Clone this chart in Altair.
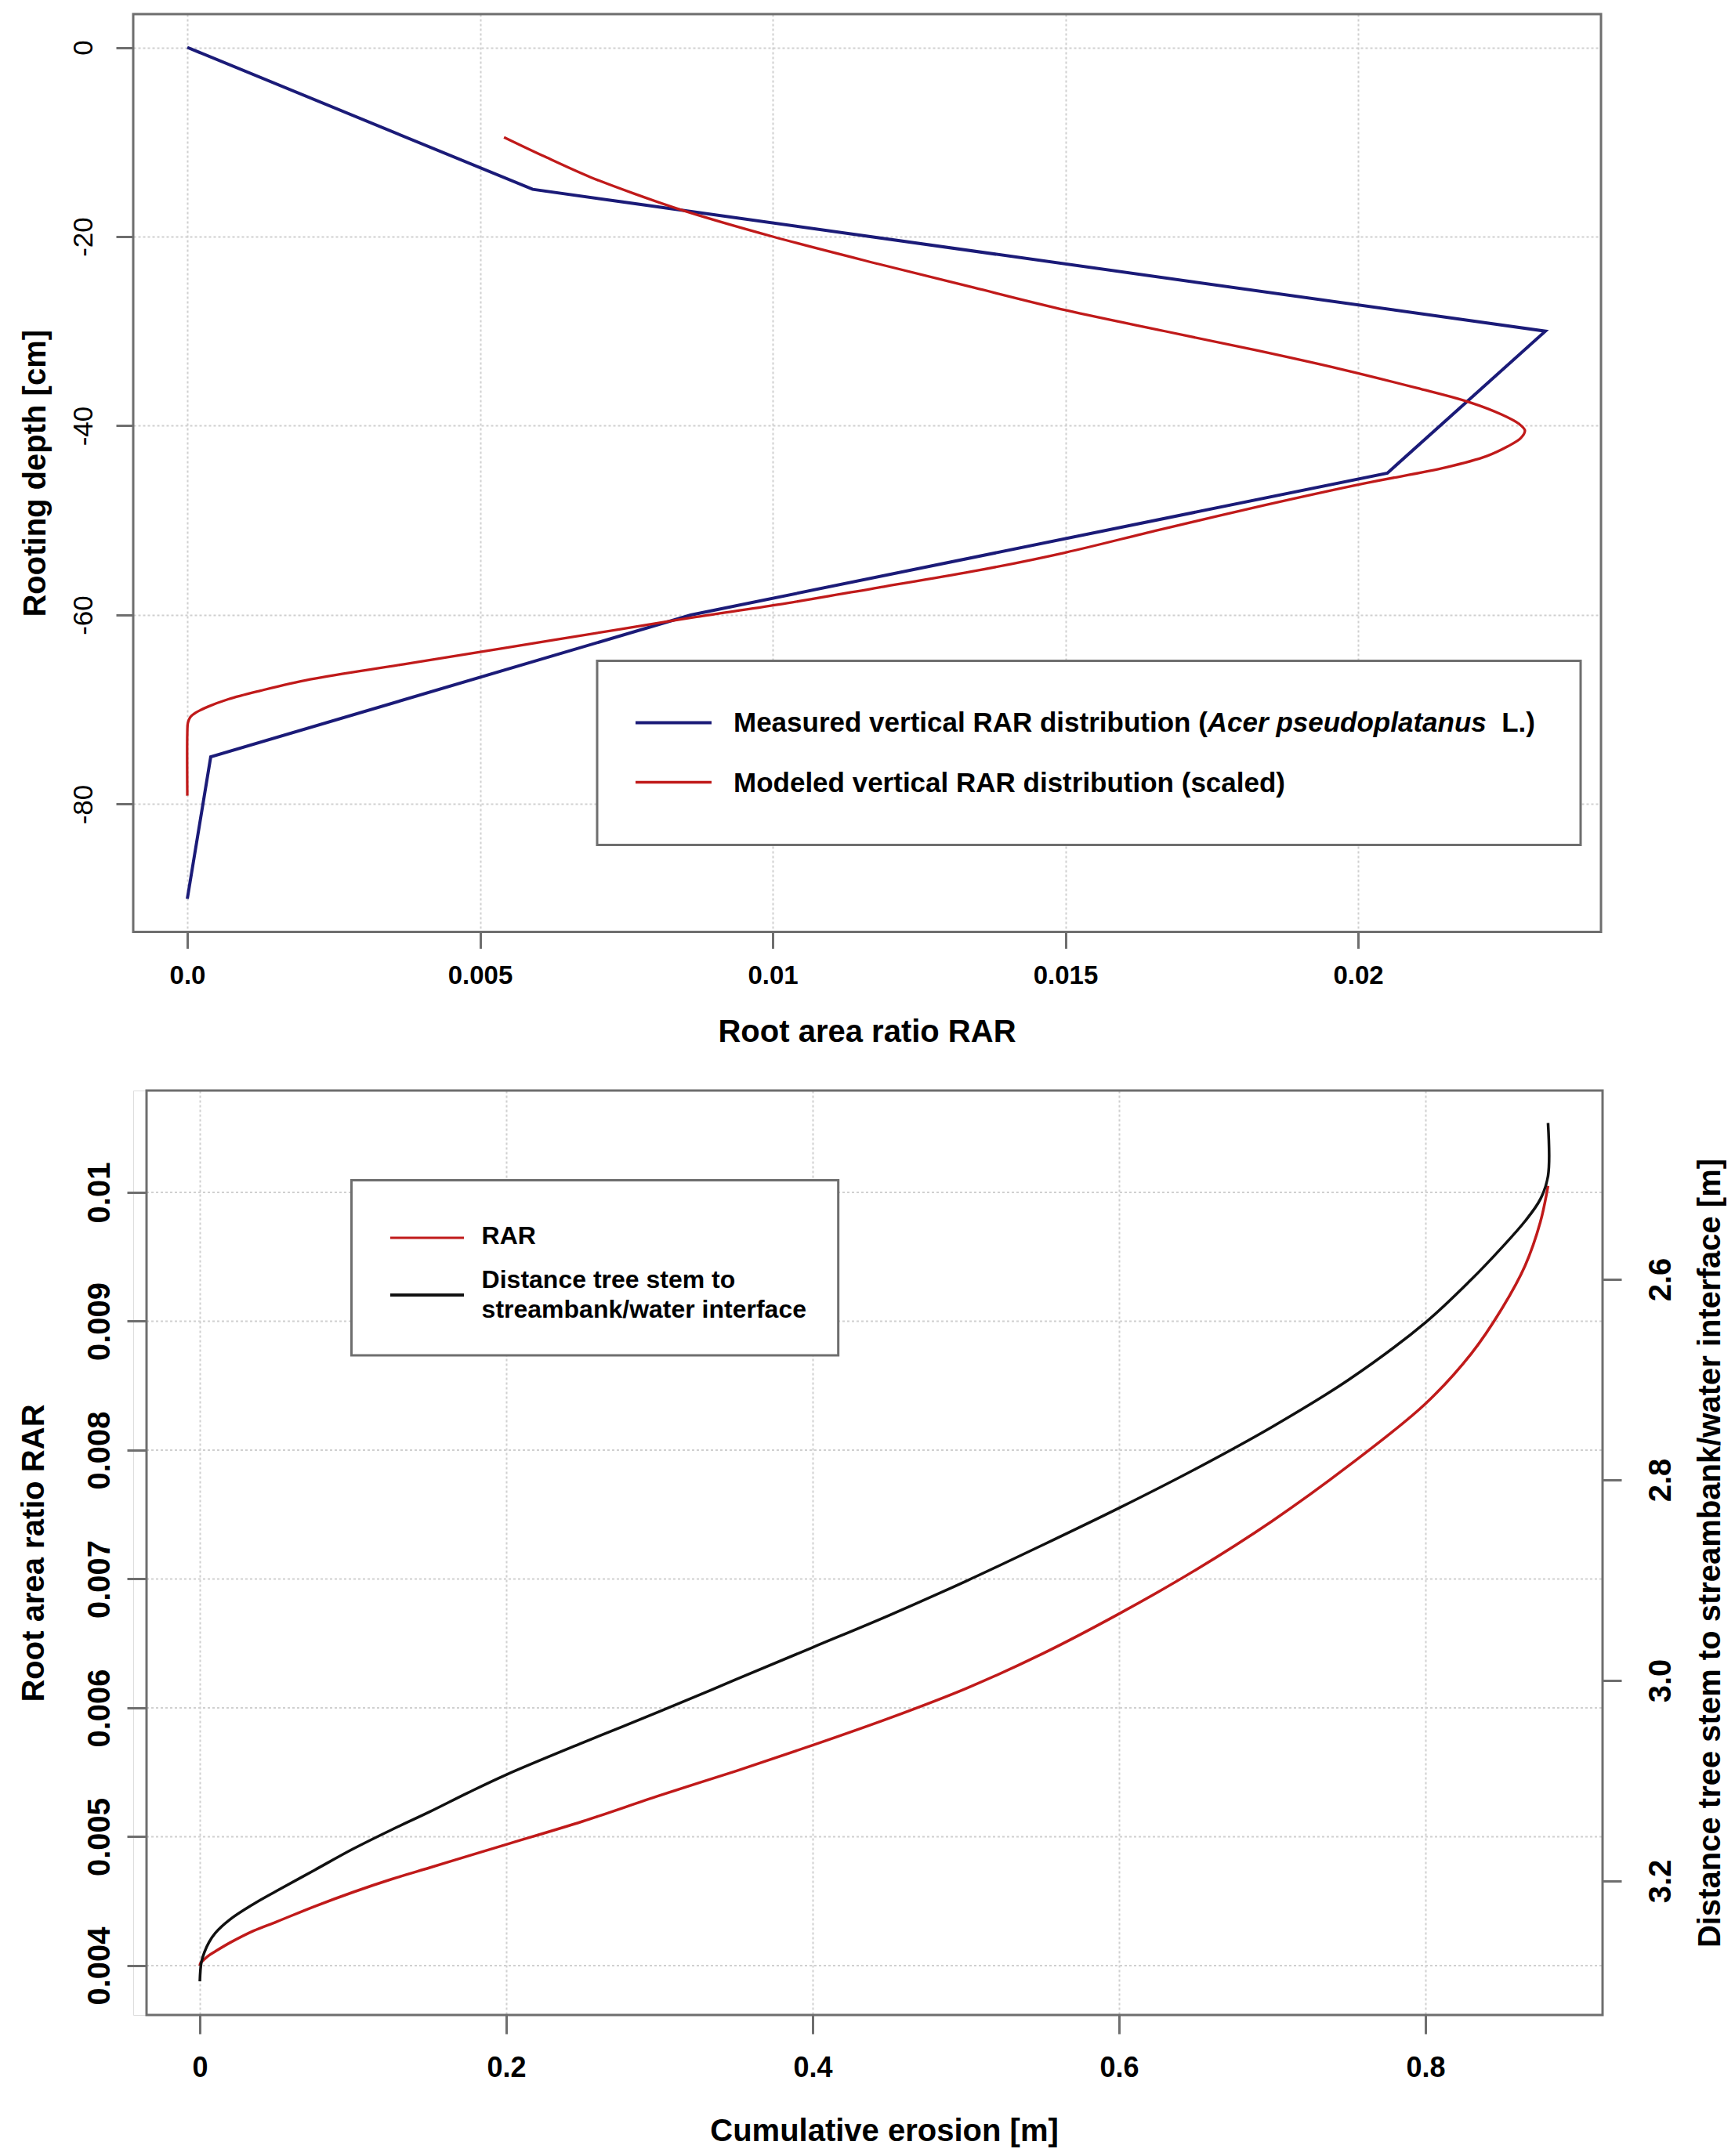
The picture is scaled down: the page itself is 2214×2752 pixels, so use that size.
import altair as alt
import pandas as pd

FONT = "Liberation Sans, Arial, sans-serif"
FRAME = "#6e6e6e"
GRID = "#d0d0d0"
BLUE = "#1b1b78"
RED = "#c01a1a"
BLACK = "#111111"

# ---------------- data: upper panel ----------------
meas_rar = [0.0, 0.0059, 0.0232, 0.0205, 0.0086, 0.0004, 0.0]
meas_depth = [0, -15, -30, -45, -60, -75, -90]

mod_rar = [0.00541, 0.00609, 0.00688, 0.00765, 0.00850, 0.0100, 0.01181, 0.01344,
           0.01502, 0.0167, 0.01825, 0.0197, 0.0210, 0.0219, 0.02245, 0.02275,
           0.02285, 0.02278, 0.02255, 0.0222, 0.0215, 0.0201, 0.0184, 0.0166,
           0.0150, 0.0135, 0.0119, 0.0101, 0.0087, 0.0074, 0.0054, 0.0037,
           0.0021, 0.00125, 0.0007, 0.00035, 0.00015, 0.00005, 0.00001, 0.0, 0.0]
mod_depth = [-9.5, -11.5, -13.7, -15.5, -17.3, -20.0, -22.9, -25.4,
             -27.8, -30.0, -32.0, -34.0, -36.0, -37.5, -38.8, -39.8,
             -40.5, -41.3, -42.2, -43.2, -44.4, -46.1, -48.4, -51.0,
             -53.4, -55.3, -57.0, -58.9, -60.2, -61.5, -63.5, -65.2,
             -66.8, -68.0, -68.9, -69.7, -70.3, -70.8, -71.4, -72.5, -79.1]

top_xticks = [0.0, 0.005, 0.01, 0.015, 0.02]
top_xlabels = ["0.0", "0.005", "0.01", "0.015", "0.02"]
top_yticks = [0, -20, -40, -60, -80]
top_ylabels = ["0", "-20", "-40", "-60", "-80"]

# ---------------- data: lower panel ----------------
ero = [0.0, 0.0005, 0.003, 0.006, 0.01, 0.02, 0.035, 0.05, 0.075, 0.1, 0.125, 0.15,
       0.175, 0.2, 0.25, 0.3, 0.35, 0.4, 0.45, 0.5, 0.55, 0.6, 0.65, 0.7, 0.75, 0.8,
       0.83, 0.85, 0.865, 0.875, 0.88]
rar = [0.00400, 0.00402, 0.00405, 0.00408, 0.00411, 0.00418, 0.00427, 0.00434,
       0.00446, 0.00457, 0.00467, 0.00476, 0.00485, 0.00494, 0.00512, 0.00532,
       0.00551, 0.00571, 0.00592, 0.00615, 0.00642, 0.00673, 0.00707, 0.00745,
       0.00788, 0.00836, 0.00875, 0.00910, 0.00943, 0.00977, 0.01005]

dist_ero = [0.0, 0.001, 0.003, 0.006, 0.01, 0.02, 0.035, 0.05, 0.075, 0.1, 0.125, 0.15,
            0.175, 0.2, 0.25, 0.3, 0.35, 0.4, 0.45, 0.5, 0.55, 0.6, 0.65, 0.7, 0.75, 0.8,
            0.83, 0.85, 0.865, 0.875, 0.88, 0.88]
dist = [3.300, 3.281, 3.271, 3.261, 3.252, 3.238, 3.223, 3.210, 3.189, 3.168, 3.149,
        3.131, 3.112, 3.094, 3.062, 3.031, 2.999, 2.967, 2.935, 2.901, 2.865, 2.828,
        2.789, 2.747, 2.700, 2.643, 2.600, 2.568, 2.542, 2.520, 2.497, 2.444]

bot_xticks = [0.0, 0.2, 0.4, 0.6, 0.8]
bot_xlabels = ["0", "0.2", "0.4", "0.6", "0.8"]
bot_lticks = [0.004, 0.005, 0.006, 0.007, 0.008, 0.009, 0.01]
bot_llabels = ["0.004", "0.005", "0.006", "0.007", "0.008", "0.009", "0.01"]
bot_rticks = [2.6, 2.8, 3.0, 3.2]
bot_rlabels = ["2.6", "2.8", "3.0", "3.2"]

# ---------------- helpers ----------------
def lab_expr(ticks, labels):
    expr = "''"
    for t, l in reversed(list(zip(ticks, labels))):
        expr = f"abs(datum.value - ({t})) < 1e-7 ? '{l}' : ({expr})"
    return expr

# Arial / Liberation Sans Bold advance widths (per 1000 em) for legend layout
W = {' ': 278, '(': 333, ')': 333, '.': 278, 'A': 722, 'L': 611, 'M': 833, 'R': 722,
     'a': 556, 'b': 611, 'c': 556, 'd': 611, 'e': 556, 'i': 278, 'l': 278, 'n': 611,
     'o': 611, 'p': 611, 'r': 389, 's': 556, 't': 333, 'u': 611, 'v': 556}

def text_w(s, size):
    return sum(W.get(ch, 556) for ch in s) * size / 1000.0

one = pd.DataFrame({"k": [0]})

def rect(x1, x2, y1, y2, fill="white", fo=1.0):
    return alt.Chart(one).mark_rect(fill=fill, fillOpacity=fo, stroke=FRAME, strokeWidth=3).encode(
        x=alt.value(x1), x2=alt.value(x2), y=alt.value(y1), y2=alt.value(y2))

def seg(x1, x2, y, color, w=4):
    return alt.Chart(one).mark_rule(color=color, strokeWidth=w).encode(
        x=alt.value(x1), x2=alt.value(x2), y=alt.value(y))

def txt(x, y, s, size, style="normal"):
    return alt.Chart(one).mark_text(align="left", baseline="alphabetic", font=FONT,
                                    fontSize=size, fontWeight="bold", fontStyle=style,
                                    color="black").encode(
        x=alt.value(x), y=alt.value(y), text=alt.value(s))

# ---------------- upper panel ----------------
TW, TH = 1873, 1171.5
top_x_scale = alt.Scale(domain=[-0.000924, 0.024150], nice=False, zero=False)
top_y_scale = alt.Scale(domain=[-93.5, 3.52], nice=False, zero=False)

meas_df = pd.DataFrame({"rar": meas_rar, "depth": meas_depth, "idx": range(len(meas_rar))})
mod_df = pd.DataFrame({"rar": mod_rar, "depth": mod_depth, "idx": range(len(mod_rar))})

top_x_axis = alt.Axis(values=top_xticks, labelExpr=lab_expr(top_xticks, top_xlabels),
                      title="Root area ratio RAR", titleFontSize=40, titleFontWeight="bold",
                      titleBaseline="alphabetic", titleX=936, titleY=140,
                      labelFontSize=33, labelFontWeight="bold", labelBaseline="alphabetic",
                      labelPadding=45, tickSize=21, tickWidth=3, tickColor=FRAME,
                      domain=False, grid=True, gridColor=GRID, gridDash=[3, 3], gridWidth=2,
                      labelOverlap=False, labelFlush=False)
top_y_axis = alt.Axis(values=top_yticks, labelExpr=lab_expr(top_yticks, top_ylabels),
                      title="Rooting depth [cm]", titleFontSize=40, titleFontWeight="bold",
                      titleAngle=270, titleBaseline="alphabetic", titleAlign="center",
                      titleX=-113, titleY=TH / 2,
                      labelFontSize=35, labelFontWeight="normal", labelAngle=270,
                      labelAlign="center", labelBaseline="alphabetic", labelPadding=30.5,
                      tickSize=22, tickWidth=3, tickColor=FRAME,
                      domain=False, grid=True, gridColor=GRID, gridDash=[3, 3], gridWidth=2,
                      labelOverlap=False, labelFlush=False)

meas_line = alt.Chart(meas_df).mark_line(color=BLUE, strokeWidth=4).encode(
    x=alt.X("rar:Q", scale=top_x_scale, axis=top_x_axis),
    y=alt.Y("depth:Q", scale=top_y_scale, axis=top_y_axis),
    order="idx:Q",
)
mod_line = alt.Chart(mod_df).mark_line(color=RED, strokeWidth=3.3, interpolate="catmull-rom").encode(
    x=alt.X("rar:Q", scale=top_x_scale, axis=top_x_axis),
    y=alt.Y("depth:Q", scale=top_y_scale, axis=top_y_axis),
    order="idx:Q",
)

LS = 35
lx = 766
pre = "Measured vertical RAR distribution ("
ital = "Acer pseudoplatanus"
x_ital = lx + text_w(pre, LS)
x_suf = x_ital + text_w(ital, LS) + 2 * text_w(" ", LS)

top_legend = [
    rect(592, 1847, 825.5, 1060.5),
    seg(641, 738, 904.5, BLUE, 4),
    seg(641, 738, 980.5, RED, 3.5),
    txt(lx, 915.5, pre, LS),
    txt(x_ital, 915.5, ital, LS, "italic"),
    txt(x_suf, 915.5, "L.)", LS),
    txt(lx, 992.5, "Modeled vertical RAR distribution (scaled)", LS),
]

top = alt.layer(meas_line, mod_line, *top_legend, rect(0, TW, 0, TH, fill="white", fo=0.0)).properties(
    width=TW, height=TH)

# ---------------- lower panel ----------------
BW, BH = 1875, 1180
XOFF = 17  # frame / left axis start inside the view
bot_x_scale = alt.Scale(domain=[-0.04348, 0.9156], nice=False, zero=False)
left_scale = alt.Scale(domain=[0.003617, 0.01079], nice=False, zero=False)
right_scale = alt.Scale(domain=[2.4117, 3.3336], reverse=True, nice=False, zero=False)

bot_x_axis = alt.Axis(values=bot_xticks, labelExpr=lab_expr(bot_xticks, bot_xlabels),
                      title="Cumulative erosion [m]", titleFontSize=40, titleFontWeight="bold",
                      titleBaseline="alphabetic", titleX=958, titleY=160,
                      labelFontSize=36, labelFontWeight="bold", labelBaseline="alphabetic",
                      labelPadding=54, tickSize=24, tickWidth=3, tickColor=FRAME,
                      domain=False, grid=True, gridColor=GRID, gridDash=[3, 3], gridWidth=2,
                      labelOverlap=False, labelFlush=False)
left_axis = alt.Axis(orient="left", offset=-XOFF, values=bot_lticks,
                     labelExpr=lab_expr(bot_lticks, bot_llabels),
                     title="Root area ratio RAR", titleFontSize=40, titleFontWeight="bold",
                     titleAngle=270, titleBaseline="alphabetic", titleAlign="center",
                     titleX=-132, titleY=BH / 2,
                     labelFontSize=40, labelFontWeight="bold", labelAngle=270,
                     labelAlign="center", labelBaseline="alphabetic", labelPadding=23,
                     tickSize=25, tickWidth=3, tickColor=FRAME,
                     domain=False, grid=False, labelOverlap=False, labelFlush=False)
right_axis = alt.Axis(orient="right", values=bot_rticks,
                      labelExpr=lab_expr(bot_rticks, bot_rlabels),
                      title="Distance tree stem to streambank/water interface [m]",
                      titleFontSize=40, titleFontWeight="bold",
                      titleAngle=270, titleBaseline="alphabetic", titleAlign="center",
                      titleX=149, titleY=BH / 2,
                      labelFontSize=40, labelFontWeight="bold", labelAngle=270,
                      labelAlign="center", labelBaseline="alphabetic", labelPadding=62.5,
                      tickSize=24, tickWidth=3, tickColor=FRAME,
                      domain=False, grid=False, labelOverlap=False, labelFlush=False)

grid_df = pd.DataFrame({"v": bot_lticks})
hgrid = alt.Chart(grid_df).mark_rule(color=GRID, strokeDash=[3, 3], strokeWidth=2).encode(
    y=alt.Y("v:Q", scale=left_scale, axis=None),
    x=alt.value(XOFF), x2=alt.value(BW),
)

rar_df = pd.DataFrame({"ero": ero, "rar": rar, "idx": range(len(ero))})
dist_df = pd.DataFrame({"ero": dist_ero, "dist": dist, "idx": range(len(dist_ero))})

rar_line = alt.Chart(rar_df).mark_line(color=RED, strokeWidth=3.5, interpolate="catmull-rom").encode(
    x=alt.X("ero:Q", scale=bot_x_scale, axis=bot_x_axis),
    y=alt.Y("rar:Q", scale=left_scale, axis=left_axis),
    order="idx:Q",
)
dist_line = alt.Chart(dist_df).mark_line(color=BLACK, strokeWidth=3.5, interpolate="catmull-rom").encode(
    x=alt.X("ero:Q", scale=bot_x_scale, axis=bot_x_axis),
    y=alt.Y("dist:Q", scale=right_scale, axis=right_axis),
    order="idx:Q",
)

BS = 32
bot_legend = [
    rect(278.5, 899.7, 114.5, 337.9),
    seg(328, 422, 188, RED, 3),
    seg(328, 422, 261, BLACK, 4),
    txt(444.6, 196, "RAR", BS),
    txt(444.6, 252, "Distance tree stem to", BS),
    txt(444.6, 290, "streambank/water interface", BS),
]

bottom = alt.layer(hgrid, rar_line, dist_line, *bot_legend,
                   rect(XOFF, BW, 0, BH, fill="white", fo=0.0)).resolve_scale(
    y="independent").properties(width=BW, height=BH)

chart = alt.vconcat(top, bottom, spacing=202, bounds="flush").properties(
    padding={"left": 14, "top": 8, "right": 0, "bottom": 5}
).configure_view(stroke=None).configure_axis(
    labelFont=FONT, titleFont=FONT, labelColor="black", titleColor="black"
).configure(background="white")

chart.save("out.html", embed_options={"renderer": "svg", "actions": False})
